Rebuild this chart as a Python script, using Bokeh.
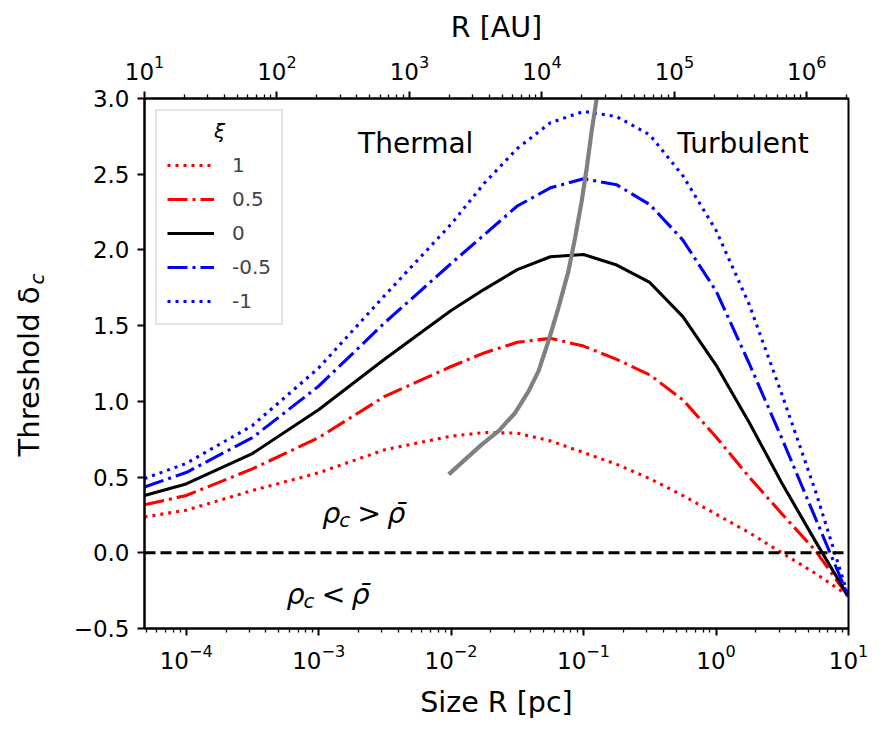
import math
from bokeh.plotting import figure
from bokeh.layouts import row
from bokeh.models import (Range1d, LogScale, LogAxis, FixedTicker, Label, Legend,
                          LegendItem, Span, CustomJSTickFormatter, LogTickFormatter)
from bokeh.embed import file_html
from bokeh.resources import INLINE

# ---------------- data ----------------
PC_TO_AU = 206265.0

R_pc = [4.85e-5, 1e-4, 3.16e-4, 1e-3, 3.16e-3, 1e-2, 1.78e-2, 3.16e-2, 5.62e-2,
        1e-1, 1.78e-1, 3.16e-1, 5.62e-1, 1.0, 1.78, 3.16, 5.62, 10.0]

delta_xi_1 = [0.237, 0.281, 0.411, 0.528, 0.681, 0.770, 0.794, 0.790, 0.739,
              0.662, 0.584, 0.490, 0.378, 0.255, 0.133, -0.002, -0.136, -0.285]
delta_xi_05 = [0.317, 0.378, 0.554, 0.760, 1.033, 1.230, 1.320, 1.390, 1.416,
               1.365, 1.277, 1.175, 1.010, 0.765, 0.500, 0.255, 0.015, -0.290]
delta_xi_0 = [0.378, 0.455, 0.655, 0.945, 1.280, 1.600, 1.740, 1.870, 1.955,
              1.970, 1.900, 1.785, 1.560, 1.240, 0.860, 0.456, 0.077, -0.290]
delta_xi_m05 = [0.435, 0.530, 0.760, 1.100, 1.520, 1.910, 2.100, 2.290, 2.410,
                2.470, 2.430, 2.300, 2.065, 1.730, 1.250, 0.750, 0.230, -0.290]
delta_xi_m1 = [0.490, 0.590, 0.840, 1.220, 1.700, 2.170, 2.440, 2.670, 2.840,
               2.915, 2.880, 2.760, 2.490, 2.130, 1.640, 1.040, 0.410, -0.290]

xi_labels = ["1", "0.5", "0", "-0.5", "-1"]

# locus of the maxima (grey curve)
peak_R = [9.6e-3, 1.28e-2, 1.71e-2, 2.29e-2, 3.05e-2, 3.85e-2, 4.57e-2, 5.43e-2,
          6.46e-2, 7.69e-2, 8.63e-2, 9.68e-2, 0.1057, 0.1151, 0.1256]
peak_delta = [0.518, 0.617, 0.716, 0.805, 0.925, 1.068, 1.200, 1.398,
              1.618, 1.860, 2.080, 2.322, 2.542, 2.784, 3.0]

y_ticks = [-0.5, 0.0, 0.5, 1.0, 1.5, 2.0, 2.5, 3.0]

FONT = "DejaVu Sans"
LABEL_SIZE = "28.5px"
TICK_SIZE = "23px"

x_start = 10.0 / PC_TO_AU
x_end = 10.0

YLAB_W = 70   # width of the panel holding the rotated y title

# ---------------- main figure ----------------
p = figure(width=884 - YLAB_W, height=734, x_axis_type="log",
           x_range=Range1d(x_start, x_end), y_range=Range1d(-0.5, 3.0),
           output_backend="svg", toolbar_location=None,
           min_border_left=142 - YLAB_W, min_border_right=36,
           min_border_top=98, min_border_bottom=106)
p.grid.visible = False
p.outline_line_color = "black"
p.outline_line_width = 2
p.background_fill_color = "white"
p.border_fill_color = "white"

bottom_axis = p.below[0]
left_axis = p.left[0]

# top axis in AU
p.extra_x_ranges = {"au": Range1d(x_start * PC_TO_AU, x_end * PC_TO_AU)}
p.extra_x_scales = {"au": LogScale()}
top_axis = LogAxis(x_range_name="au", axis_label="R [AU]")
p.add_layout(top_axis, "above")

bot_major = [10.0 ** k for k in range(-4, 2)]
bot_minor = [m * 10.0 ** k for k in range(-5, 1) for m in range(2, 10)
             if x_start <= m * 10.0 ** k <= x_end]
bottom_axis.ticker = FixedTicker(ticks=bot_major, minor_ticks=bot_minor)
bottom_axis.formatter = LogTickFormatter()
top_major = [10.0 ** k for k in range(1, 7)]
top_minor = [m * 10.0 ** k for k in range(1, 7) for m in range(2, 10)
             if x_start * PC_TO_AU <= m * 10.0 ** k <= x_end * PC_TO_AU]
top_axis.ticker = FixedTicker(ticks=top_major, minor_ticks=top_minor)
top_axis.formatter = LogTickFormatter()

left_axis.ticker = FixedTicker(ticks=y_ticks, minor_ticks=[])
left_axis.formatter = CustomJSTickFormatter(
    code="return (tick < 0 ? '\u2212' : '') + Math.abs(tick).toFixed(1);")

bottom_axis.axis_label = "Size R [pc]"

for ax in (bottom_axis, left_axis, top_axis):
    ax.axis_line_width = 2
    ax.axis_line_color = "black"
    ax.major_tick_line_width = 2
    ax.major_tick_out = 7
    ax.major_tick_in = 0
    ax.minor_tick_line_width = 1.3
    ax.minor_tick_out = 4
    ax.minor_tick_in = 0
    ax.major_label_text_font = FONT
    ax.major_label_text_font_size = TICK_SIZE
    ax.major_label_text_color = "black"
    ax.axis_label_text_font = FONT
    ax.axis_label_text_font_size = LABEL_SIZE
    ax.axis_label_text_font_style = "normal"
    ax.axis_label_text_color = "black"

left_axis.minor_tick_out = 0
left_axis.major_label_standoff = 8
bottom_axis.major_label_standoff = 8
bottom_axis.axis_label_standoff = 14
top_axis.major_label_standoff = 12
top_axis.axis_label_standoff = 8

# ---------------- curves ----------------
LW = 3.1
series = [
    (delta_xi_1, "red", "3 5"),
    (delta_xi_05, "red", "20 5 3 5"),
    (delta_xi_0, "black", "solid"),
    (delta_xi_m05, "blue", "20 5 3 5"),
    (delta_xi_m1, "blue", "3 5"),
]
renderers = []
for vals, col, dash in series:
    r = p.line(R_pc, vals, line_color=col, line_width=LW, line_dash=dash)
    renderers.append(r)

p.line(peak_R, peak_delta, line_color="#808080", line_width=4.2)

p.add_layout(Span(location=0.0, dimension="width", line_color="black",
                  line_width=3.1, line_dash="11 5"))

# ---------------- legend ----------------
legend = Legend(items=[LegendItem(label=lab, renderers=[r])
                       for lab, r in zip(xi_labels, renderers)],
                location="top_left", margin=11, padding=10, spacing=10,
                glyph_width=47, glyph_height=24, label_height=24,
                label_standoff=18, label_text_font=FONT,
                label_text_font_size="20px", title=" ",
                title_text_font_size="18px", title_standoff=11,
                border_line_color="#cccccc", border_line_width=2,
                background_fill_alpha=0.0)
p.add_layout(legend)

p.add_layout(Label(x=x_start, y=2.786, x_offset=75, text="\u03be",
                   text_font=FONT, text_font_size="20px", text_font_style="italic",
                   text_align="center", text_baseline="middle", level="overlay",
                   text_color="black"))

# ---------------- annotations ----------------
def add_text(fig, x, y, txt, size, style="normal", align="left", x_off=0,
             angle=0.0, baseline="alphabetic"):
    fig.add_layout(Label(x=x, y=y, x_offset=x_off, text=txt, text_font=FONT,
                         text_font_size=size, text_font_style=style,
                         text_align=align, text_baseline=baseline, angle=angle,
                         text_color="black"))

add_text(p, 10 ** -2.267, 2.70, "Thermal", "28px", align="center")
add_text(p, 10 ** 0.2035, 2.70, "Turbulent", "28px", align="center")

def rho_label(xl, yb, rel):
    add_text(p, xl, yb, "\u03c1", LABEL_SIZE, style="italic")
    add_text(p, xl, yb - 6 / 151.6, "c", "20px", style="italic", x_off=17)
    add_text(p, xl, yb, rel, LABEL_SIZE, x_off=35)
    add_text(p, xl, yb, "\u03c1\u0304", LABEL_SIZE, style="italic", x_off=65)

rho_label(10 ** -2.972, 0.258, ">")
rho_label(10 ** -3.243, -0.278, "<")

# ---------------- y-axis title panel ("Threshold δc") ----------------
q = figure(width=YLAB_W, height=734, x_range=Range1d(0, YLAB_W),
           y_range=Range1d(734, 0),
           output_backend="svg", toolbar_location=None,
           x_axis_location=None, y_axis_location=None,
           min_border=0, min_border_left=0, min_border_right=0,
           min_border_top=0, min_border_bottom=0)
q.grid.visible = False
q.outline_line_color = None
q.background_fill_color = "white"
q.border_fill_color = "white"
add_text(q, 28.5, 378.0, "Threshold \u03b4", "29px", align="center",
         baseline="middle", angle=math.pi / 2)
add_text(q, 36.0, 250.0, "c", "20px", style="italic", align="center",
         baseline="middle", angle=math.pi / 2)

layout = row(q, p, spacing=0)
open("out.html", "w").write(file_html(layout, INLINE))
